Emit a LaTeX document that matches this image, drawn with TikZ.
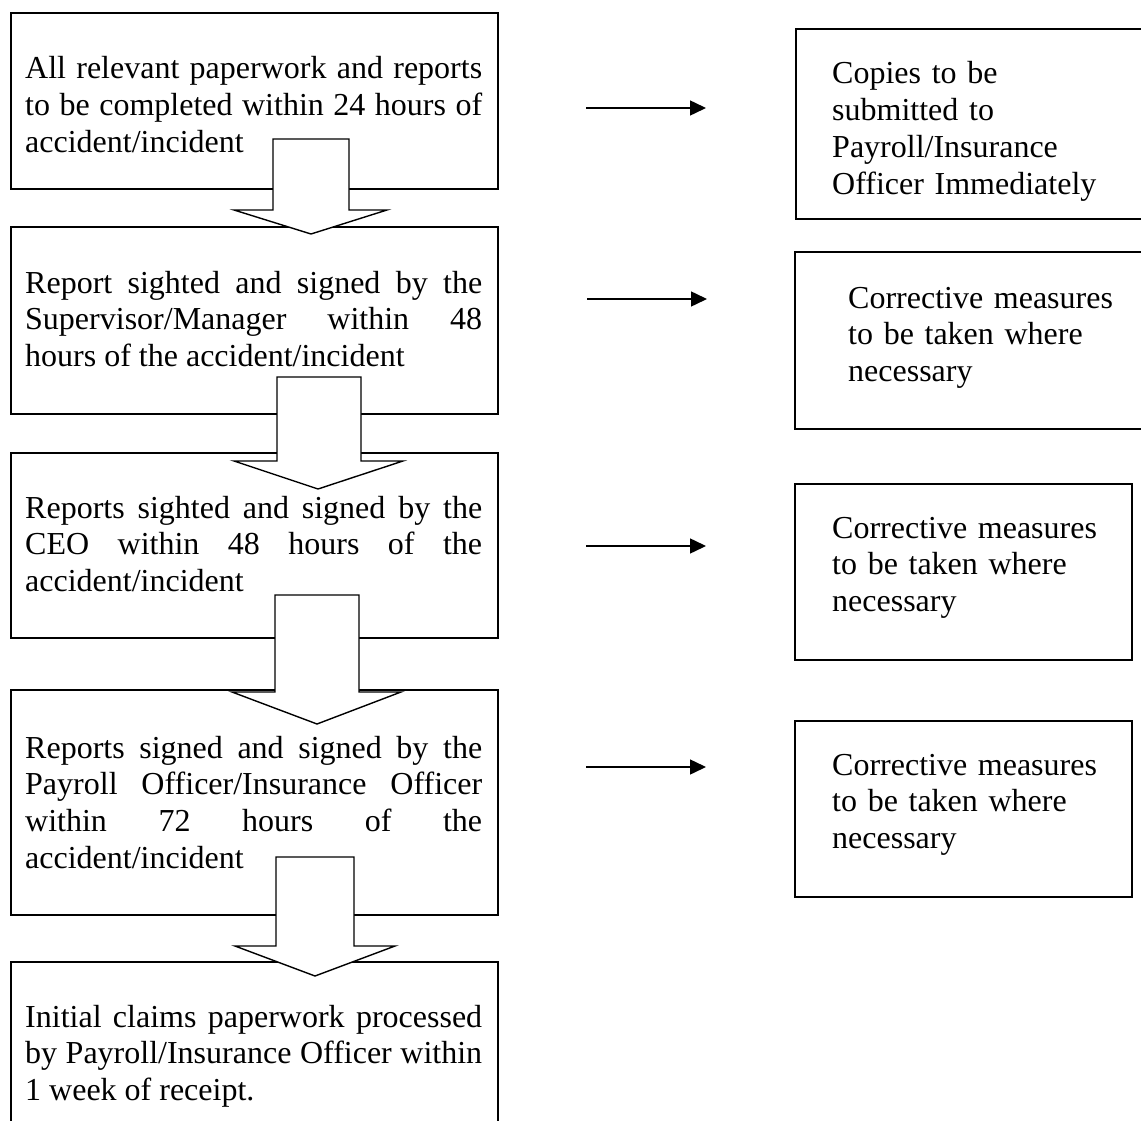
\documentclass[tikz,border=0pt]{standalone}
\usepackage{fontspec}
\setmainfont{Liberation Serif}
\usetikzlibrary{arrows.meta}
\newcommand{\loosepar}{\tolerance=10000\relax\hyphenpenalty=10000\relax}
\begin{document}
\begin{tikzpicture}[x=1pt,y=-1pt,
  box/.style={draw,line width=1.6pt,inner sep=0pt,anchor=north west},
  ltxt/.style={inner sep=0pt,anchor=base west,text width=457pt,align=justify,
    font=\fontsize{32}{36.8}\selectfont},
  rtxt/.style={inner sep=0pt,anchor=base west,text width=300pt,align=left,
    font=\fontsize{32}{36.8}\selectfont},
  barrow/.style={draw,fill=white,line width=1.4pt,line join=miter},
  hcon/.style={line width=1.5pt,-{Triangle[length=16pt,width=15pt]}}]
\useasboundingbox (0,0) rectangle (1141,1121);
\clip (0,0) rectangle (1141,1121);
\fill[white] (0,0) rectangle (1141,1121);

% left column boxes
\node[box,minimum width=487pt,minimum height=176pt] (b1) at (10,12) {};
\node[box,minimum width=487pt,minimum height=187pt] (b2) at (10,226) {};
\node[box,minimum width=487pt,minimum height=185pt] (b3) at (10,452) {};
\node[box,minimum width=487pt,minimum height=225pt] (b4) at (10,689) {};
\node[box,minimum width=487pt,minimum height=200pt] (b5) at (10,961) {};

% right column boxes
\node[box,minimum width=352pt,minimum height=190pt] (r1) at (795,28) {};
\node[box,minimum width=352pt,minimum height=177pt] (r2) at (794,251) {};
\node[box,minimum width=337pt,minimum height=176pt] (r3) at (794,483) {};
\node[box,minimum width=337pt,minimum height=176pt] (r4) at (794,720) {};

% left texts
\node[ltxt] (t1) at (25,79) {\loosepar All relevant paperwork and reports\linebreak to be completed within 24 hours of\linebreak accident/incident};
\node[ltxt] (t2) at (25,293) {\loosepar Report sighted and signed by the\linebreak Supervisor/Manager within 48\linebreak hours of the accident/incident};
\node[ltxt] (t3) at (25,518) {\loosepar Reports sighted and signed by the\linebreak CEO within 48 hours of the\linebreak accident/incident};
\node[ltxt] (t4) at (25,758) {\loosepar Reports signed and signed by the\linebreak Payroll Officer/Insurance Officer\linebreak within 72 hours of the\linebreak accident/incident};
\node[ltxt] (t5) at (25,1027) {\loosepar Initial claims paperwork processed\linebreak by Payroll/Insurance Officer within\linebreak 1 week of receipt.};

% right texts
\node[rtxt] (u1) at (832,84) {Copies to be\\submitted to\\Payroll/Insurance\\Officer Immediately};
\node[rtxt] (u2) at (848,308) {Corrective measures\\to be taken where\\necessary};
\node[rtxt] (u3) at (832,538) {Corrective measures\\to be taken where\\necessary};
\node[rtxt] (u4) at (832,775) {Corrective measures\\to be taken where\\necessary};

% block arrows between left boxes
\draw[barrow] (273,139) -- (273,210) -- (234,210) -- (311,234) -- (387,210) -- (349,210) -- (349,139) -- cycle;
\draw[barrow] (277,377) -- (277,461) -- (234,461) -- (318,489) -- (403,461) -- (361,461) -- (361,377) -- cycle;
\draw[barrow] (275,595) -- (275,692) -- (232,692) -- (317,724) -- (401,692) -- (359,692) -- (359,595) -- cycle;
\draw[barrow] (276,857) -- (276,946) -- (235,946) -- (315,976) -- (395,946) -- (354,946) -- (354,857) -- cycle;

% horizontal connectors
\coordinate (s1) at (586,108); \coordinate (e1) at (706,108);
\coordinate (s2) at (587,299); \coordinate (e2) at (707,299);
\coordinate (s3) at (586,546); \coordinate (e3) at (706,546);
\coordinate (s4) at (586,767); \coordinate (e4) at (706,767);
\draw[hcon] (s1) -- (e1);
\draw[hcon] (s2) -- (e2);
\draw[hcon] (s3) -- (e3);
\draw[hcon] (s4) -- (e4);
\end{tikzpicture}
\end{document}
